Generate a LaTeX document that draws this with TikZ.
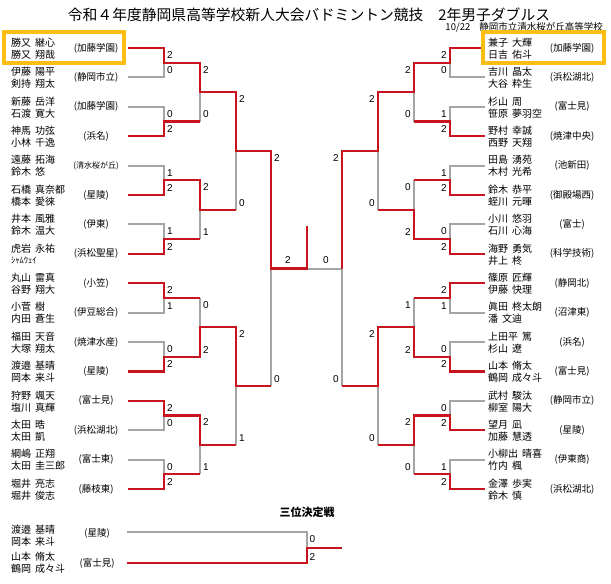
\documentclass[tikz,border=0pt]{standalone}
\usepackage{fontspec}
\setmainfont{Liberation Sans}
\newfontfamily\jp{Noto Sans CJK JP}
\usetikzlibrary{calc}
\definecolor{winred}{RGB}{200,20,30}
\definecolor{losegray}{RGB}{165,165,165}
\definecolor{hlyellow}{RGB}{250,190,20}
\pgfdeclarelayer{back}
\pgfdeclarelayer{bg}
\pgfsetlayers{back,bg,main}
\newcommand\jsp{\hspace{4pt}}
% #1 anchor, #2 x, #3 round, #4 match index, #5 top score, #6 bottom score
\newcommand\scorepair[6]{%
  \pgfmathsetmacro\ytop{48+29.4*(#4*2^#3+(2^(#3-1)-1)/2)}%
  \pgfmathsetmacro\ybot{\ytop+29.4*2^(#3-1)}%
  \node[sc,anchor=#1] (sc#1#3-#4t) at (#2,\ytop+7) {#5};
  \node[sc,anchor=#1] (sc#1#3-#4b) at (#2,\ybot-7) {#6};
}
\begin{document}
\begin{tikzpicture}[x=1pt,y=-1pt,
  wl/.style={draw=winred,line width=2.3pt},
  ll/.style={draw=losegray,line width=2pt},
  nm/.style={font=\jp\fontsize{10}{12}\selectfont,anchor=west,inner sep=0pt},
  sch/.style={font=\jp\fontsize{9.5}{11}\selectfont,inner sep=0pt},
  sc/.style={font=\fontsize{10}{12}\selectfont,inner sep=0pt},
  hlbox/.style={draw=hlyellow,line width=4pt}]
\useasboundingbox (0,0) rectangle (611,584);
\begin{pgfonlayer}{back}
\fill[white] (0,0) rectangle (611,584);
\end{pgfonlayer}

% titles
\node[font=\jp\fontsize{14.8}{16}\selectfont,inner sep=0pt] (title) at (309,14.5)
  {令和４年度静岡県高等学校新人大会バドミントン競技　2年男子ダブルス};
\node[font=\jp\fontsize{9.5}{11}\selectfont,inner sep=0pt,anchor=east] (date) at (603,27.5)
  {10/22\hspace{9pt}静岡市立清水桜が丘高等学校};

% ---------- coordinates ----------
\foreach \i in {0,...,15} {
  \pgfmathsetmacro\yy{48+29.4*\i}
  \coordinate (Ls-\i) at (128,\yy);
  \coordinate (L1-\i) at (164,\yy);
  \coordinate (Rs-\i) at (485,\yy);
  \coordinate (R1-\i) at (450,\yy);
}
\foreach \k in {0,...,7} {
  \pgfmathsetmacro\yy{48+29.4*(2*\k+0.5)}
  \coordinate (L1m-\k) at (164,\yy);
  \coordinate (L2-\k) at (200,\yy);
  \coordinate (R1m-\k) at (450,\yy);
  \coordinate (R2-\k) at (414,\yy);
}
\foreach \j in {0,...,3} {
  \pgfmathsetmacro\yy{48+29.4*(4*\j+1.5)}
  \coordinate (L2m-\j) at (200,\yy);
  \coordinate (L3-\j) at (236,\yy);
  \coordinate (R2m-\j) at (414,\yy);
  \coordinate (R3-\j) at (378,\yy);
}
\foreach \h in {0,1} {
  \pgfmathsetmacro\yy{48+29.4*(8*\h+3.5)}
  \coordinate (L3m-\h) at (236,\yy);
  \coordinate (L4-\h) at (271,\yy);
  \coordinate (R3m-\h) at (378,\yy);
  \coordinate (R4-\h) at (342,\yy);
}
\coordinate (L4m) at (271,268.5);
\coordinate (R4m) at (342,268.5);
\coordinate (F) at (307,268.5);
\coordinate (Ftop) at (307,226);
% third place
\coordinate (T1s) at (127,532.3);
\coordinate (T1e) at (307,532.3);
\coordinate (T2s) at (127,563.3);
\coordinate (T2e) at (307,563.3);
\coordinate (Tm) at (307,547.8);
\coordinate (To) at (342,547.8);

% ---------- losing segments ----------
\begin{pgfonlayer}{bg}
\foreach \i in {1,2,4,6,9,10,13,14} {
  \pgfmathtruncatemacro\k{\i/2}
  \draw[ll] (Ls-\i) -- (L1-\i) -- (L1m-\k);
}
\draw[ll] (L2-1) -- (L2m-0);
\draw[ll] (L2-3) -- (L2m-1);
\draw[ll] (L2-4) -- (L2m-2);
\draw[ll] (L2-7) -- (L2m-3);
\draw[ll] (L3-1) -- (L3m-0);
\draw[ll] (L3-3) -- (L3m-1);
\draw[ll] (L4-1) -- (L4m);
\foreach \i in {1,2,4,6,9,10,12,14} {
  \pgfmathtruncatemacro\k{\i/2}
  \draw[ll] (Rs-\i) -- (R1-\i) -- (R1m-\k);
}
\draw[ll] (R2-1) -- (R2m-0);
\draw[ll] (R2-2) -- (R2m-1);
\draw[ll] (R2-4) -- (R2m-2);
\draw[ll] (R2-7) -- (R2m-3);
\draw[ll] (R3-1) -- (R3m-0);
\draw[ll] (R3-3) -- (R3m-1);
\draw[ll] (R4-1) -- (R4m);
\draw[ll] (R4m) -- (F);
\draw[ll] (T1s) -- (T1e) -- (Tm);
\end{pgfonlayer}

% ---------- winning paths ----------
\draw[wl] (Ls-0) -- (L1-0) -- (L1m-0) -- (L2-0) -- (L2m-0) -- (L3-0) -- (L3m-0) -- (L4-0) -- (L4m) -- (F) -- (Ftop);
\draw[wl] (Ls-3) -- (L1-3) -- (L1m-1) -- (L2-1);
\draw[wl] (Ls-5) -- (L1-5) -- (L1m-2) -- (L2-2) -- (L2m-1) -- (L3-1);
\draw[wl] (Ls-7) -- (L1-7) -- (L1m-3) -- (L2-3);
\draw[wl] (Ls-8) -- (L1-8) -- (L1m-4) -- (L2-4);
\draw[wl] (Ls-11) -- (L1-11) -- (L1m-5) -- (L2-5) -- (L2m-2) -- (L3-2) -- (L3m-1) -- (L4-1);
\draw[wl] (Ls-12) -- (L1-12) -- (L1m-6) -- (L2-6) -- (L2m-3) -- (L3-3);
\draw[wl] (Ls-15) -- (L1-15) -- (L1m-7) -- (L2-7);

\draw[wl] (Rs-0) -- (R1-0) -- (R1m-0) -- (R2-0) -- (R2m-0) -- (R3-0) -- (R3m-0) -- (R4-0) -- (R4m);
\draw[wl] (Rs-3) -- (R1-3) -- (R1m-1) -- (R2-1);
\draw[wl] (Rs-5) -- (R1-5) -- (R1m-2) -- (R2-2);
\draw[wl] (Rs-7) -- (R1-7) -- (R1m-3) -- (R2-3) -- (R2m-1) -- (R3-1);
\draw[wl] (Rs-8) -- (R1-8) -- (R1m-4) -- (R2-4);
\draw[wl] (Rs-11) -- (R1-11) -- (R1m-5) -- (R2-5) -- (R2m-2) -- (R3-2) -- (R3m-1) -- (R4-1);
\draw[wl] (Rs-13) -- (R1-13) -- (R1m-6) -- (R2-6) -- (R2m-3) -- (R3-3);
\draw[wl] (Rs-15) -- (R1-15) -- (R1m-7) -- (R2-7);

\draw[wl] (T2s) -- (T2e) -- (Tm) -- (To);

% ---------- scores ----------
\foreach \k/\a/\b in {0/2/0,1/0/2,2/1/2,3/1/2,4/2/1,5/0/2,6/2/0,7/0/2} {\scorepair{west}{167}{1}{\k}{\a}{\b}}
\foreach \k/\a/\b in {0/2/0,1/2/1,2/0/2,3/2/1} {\scorepair{west}{203}{2}{\k}{\a}{\b}}
\foreach \k/\a/\b in {0/2/0,1/2/1} {\scorepair{west}{239}{3}{\k}{\a}{\b}}
\scorepair{west}{274}{4}{0}{2}{0}
\foreach \k/\a/\b in {0/2/0,1/1/2,2/1/2,3/0/2,4/2/1,5/0/2,6/0/2,7/1/2} {\scorepair{east}{447}{1}{\k}{\a}{\b}}
\foreach \k/\a/\b in {0/2/0,1/0/2,2/1/2,3/2/0} {\scorepair{east}{411}{2}{\k}{\a}{\b}}
\foreach \k/\a/\b in {0/2/0,1/2/0} {\scorepair{east}{375}{3}{\k}{\a}{\b}}
\scorepair{east}{339}{4}{0}{2}{0}
\node[sc] (finL) at (288,260) {2};
\node[sc] (finR) at (326,260) {0};
\node[sc,anchor=west] (t3a) at (309.5,539) {0};
\node[sc,anchor=west] (t3b) at (309.5,557) {2};

% ---------- names ----------
\foreach \i/\a/\b/\s in {
  0/勝又\jsp 継心/勝又\jsp 翔哉/(加藤学園),
  1/伊藤\jsp 陽平/剣持\jsp 翔太/(静岡市立),
  2/新藤\jsp 岳洋/石渡\jsp 寛大/(加藤学園),
  3/神馬\jsp 功弦/小林\jsp 千逸/(浜名),
  4/遠藤\jsp 拓海/鈴木\jsp 悠/{\fontsize{8}{9}\selectfont(清水桜が丘)},
  5/石橋\jsp 真奈都/橋本\jsp 愛徠/(星陵),
  6/井本\jsp 風雅/鈴木\jsp 温大/(伊東),
  7/虎岩\jsp 永祐/{\fontsize{8.5}{9}\selectfont ｼｬﾑｳｪｲ}/(浜松聖星),
  8/丸山\jsp 雷真/谷野\jsp 翔大/(小笠),
  9/小菅\jsp 樹/内田\jsp 蒼生/(伊豆総合),
  10/福田\jsp 天音/大塚\jsp 翔太/(焼津水産),
  11/渡邉\jsp 基晴/岡本\jsp 来斗/(星陵),
  12/狩野\jsp 颯天/塩川\jsp 真輝/(富士見),
  13/太田\jsp 晧/太田\jsp 凱/(浜松湖北),
  14/綱嶋\jsp 正翔/太田\jsp 圭三郎/(富士東),
  15/堀井\jsp 亮志/堀井\jsp 俊志/(藤枝東)} {
  \pgfmathsetmacro\yy{48+29.4*\i}
  \node[nm] (LnA-\i) at (11,\yy-5.5) {\a};
  \node[nm] (LnB-\i) at (11,\yy+6.5) {\b};
  \node[sch] (Lsc-\i) at (96,\yy) {\s};
}
\foreach \i/\a/\b/\s in {
  0/兼子\jsp 大輝/日吉\jsp 佑斗/(加藤学園),
  1/吉川\jsp 晶太/大谷\jsp 粋生/(浜松湖北),
  2/杉山\jsp 周/笹原\jsp 夢羽空/(富士見),
  3/野村\jsp 幸誠/西野\jsp 天翔/(焼津中央),
  4/田島\jsp 湧苑/木村\jsp 光希/(池新田),
  5/鈴木\jsp 恭平/蛭川\jsp 元暉/(御殿場西),
  6/小川\jsp 悠羽/石川\jsp 心海/(富士),
  7/海野\jsp 勇気/井上\jsp 柊/(科学技術),
  8/篠原\jsp 匠輝/伊藤\jsp 快理/(静岡北),
  9/眞田\jsp 柊太朗/潘\jsp 文迪/(沼津東),
  10/上田平\jsp 篤/杉山\jsp 遼/(浜名),
  11/山本\jsp 脩太/鶴岡\jsp 成々斗/(富士見),
  12/武村\jsp 駿汰/柳室\jsp 陽大/(静岡市立),
  13/望月\jsp 凪/加藤\jsp 慧透/(星陵),
  14/小柳出\jsp 晴喜/竹内\jsp 楓/(伊東商),
  15/金澤\jsp 歩実/鈴木\jsp 慎/(浜松湖北)} {
  \pgfmathsetmacro\yy{48+29.4*\i}
  \node[nm] (RnA-\i) at (488,\yy-5.5) {\a};
  \node[nm] (RnB-\i) at (488,\yy+6.5) {\b};
  \node[sch] (Rsc-\i) at (572,\yy) {\s};
}

% third place block
\node[font=\jp\bfseries\fontsize{11}{13}\selectfont,inner sep=0pt] (t3title) at (307,512) {三位決定戦};
\node[nm] (T1a) at (11,530) {渡邉\jsp 基晴};
\node[nm] (T1b) at (11,541.5) {岡本\jsp 来斗};
\node[nm] (T2a) at (11,556.7) {山本\jsp 脩太};
\node[nm] (T2b) at (11,568.3) {鶴岡\jsp 成々斗};
\node[sch] (T1sc) at (97,533) {(星陵)};
\node[sch] (T2sc) at (97,563) {(富士見)};

% highlight boxes
\draw[hlbox] (4,32) rectangle (124,62.5);
\draw[hlbox] (483,32) rectangle (604,62.5);
\end{tikzpicture}
\end{document}
